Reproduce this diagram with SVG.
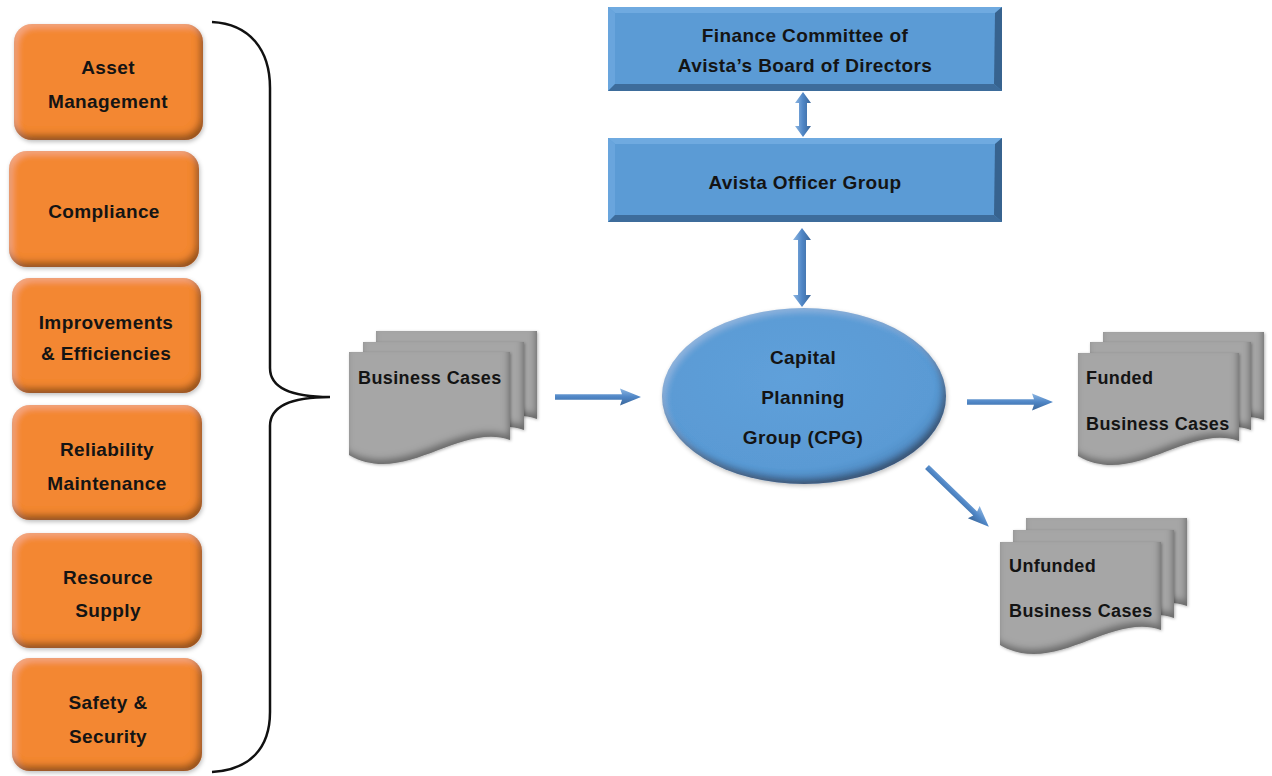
<svg xmlns="http://www.w3.org/2000/svg" xmlns:xlink="http://www.w3.org/1999/xlink" width="1272" height="776" viewBox="0 0 1272 776">
<style>
text{font-family:"Liberation Sans",Arial,sans-serif;font-weight:bold;font-size:19px;fill:#141414;letter-spacing:0.4px}
.c{text-anchor:middle}
.pg{font-size:18px}
.orange{fill:#F38733}
.page{fill:#A6A6A6}
.arrow{fill:url(#agH)}
.darrow{fill:url(#agV)}
</style>
<defs>
<filter id="bevel" x="-10%" y="-10%" width="125%" height="125%">
  <feGaussianBlur in="SourceAlpha" stdDeviation="3.5" result="blur"/>
  <feOffset in="blur" dx="-3" dy="-5" result="off"/>
  <feComposite in="SourceAlpha" in2="off" operator="out" result="rim"/>
  <feFlood flood-color="#2a1000" flood-opacity="0.7"/>
  <feComposite in2="rim" operator="in" result="shade"/>
  <feOffset in="blur" dx="3" dy="3" result="off2"/>
  <feComposite in="SourceAlpha" in2="off2" operator="out" result="rim2"/>
  <feFlood flood-color="#fff" flood-opacity="0.22"/>
  <feComposite in2="rim2" operator="in" result="hl"/>
  <feGaussianBlur in="SourceAlpha" stdDeviation="2" result="sb"/>
  <feOffset in="sb" dx="1" dy="2" result="ds"/>
  <feFlood flood-color="#000" flood-opacity="0.25"/>
  <feComposite in2="ds" operator="in" result="dsh"/>
  <feMerge><feMergeNode in="dsh"/><feMergeNode in="SourceGraphic"/><feMergeNode in="hl"/><feMergeNode in="shade"/></feMerge>
</filter>
<filter id="pshade" x="-10%" y="-10%" width="125%" height="125%">
  <feGaussianBlur in="SourceAlpha" stdDeviation="3" result="blur"/>
  <feOffset in="blur" dx="-2" dy="-5" result="off"/>
  <feComposite in="SourceAlpha" in2="off" operator="out" result="rim"/>
  <feFlood flood-color="#000" flood-opacity="0.6"/>
  <feComposite in2="rim" operator="in" result="shade"/>
  <feGaussianBlur in="SourceAlpha" stdDeviation="1.5" result="sb"/>
  <feOffset in="sb" dx="1" dy="1" result="ds"/>
  <feFlood flood-color="#000" flood-opacity="0.3"/>
  <feComposite in2="ds" operator="in" result="dsh"/>
  <feMerge><feMergeNode in="dsh"/><feMergeNode in="SourceGraphic"/><feMergeNode in="shade"/></feMerge>
</filter>
<linearGradient id="agH" x1="0" y1="0" x2="0" y2="1">
  <stop offset="0" stop-color="#8DB6E2"/>
  <stop offset="0.5" stop-color="#4F86C6"/>
  <stop offset="1" stop-color="#3A6699"/>
</linearGradient>
<linearGradient id="agV" x1="0" y1="0" x2="1" y2="0">
  <stop offset="0" stop-color="#8DB6E2"/>
  <stop offset="0.5" stop-color="#4F86C6"/>
  <stop offset="1" stop-color="#3A6699"/>
</linearGradient>
<radialGradient id="eg" cx="0.45" cy="0.4" r="0.6">
  <stop offset="0" stop-color="#5FA0DA"/>
  <stop offset="0.85" stop-color="#5A9AD4"/>
  <stop offset="1" stop-color="#4F8AC2"/>
</radialGradient>
<path id="page" d="M0,0 H161 V88 C111,70 55,135 0,103 Z"/>
<path id="arr" d="M0,-2.8 H67 L65,-8.5 L86,0 L65,8.5 L67,2.8 H0 Z"/>
</defs>
<rect width="1272" height="776" fill="#fff"/>

<g id="asset-management">
  <rect class="orange" x="14" y="24" width="189" height="116" rx="18" filter="url(#bevel)"/>
  <text class="c" x="108" y="74">Asset</text>
  <text class="c" x="108" y="108">Management</text>
</g>
<g id="compliance">
  <rect class="orange" x="9" y="151" width="190" height="116" rx="18" filter="url(#bevel)"/>
  <text class="c" x="104" y="218">Compliance</text>
</g>
<g id="improvements">
  <rect class="orange" x="12" y="278" width="189" height="115" rx="18" filter="url(#bevel)"/>
  <text class="c" x="106" y="329">Improvements</text>
  <text class="c" x="106" y="360">&amp; Efficiencies</text>
</g>
<g id="reliability">
  <rect class="orange" x="12" y="405" width="190" height="115" rx="18" filter="url(#bevel)"/>
  <text class="c" x="107" y="456">Reliability</text>
  <text class="c" x="107" y="490">Maintenance</text>
</g>
<g id="resource-supply">
  <rect class="orange" x="12" y="533" width="190" height="115" rx="18" filter="url(#bevel)"/>
  <text class="c" x="108" y="584">Resource</text>
  <text class="c" x="108" y="617">Supply</text>
</g>
<g id="safety-security">
  <rect class="orange" x="12" y="658" width="190" height="113" rx="18" filter="url(#bevel)"/>
  <text class="c" x="108" y="709">Safety &amp;</text>
  <text class="c" x="108" y="743">Security</text>
</g>

<g id="brace">
  <path d="M212,22 C250,24 270,50 270,88 V368 C270,388 292,397 330,397 C292,397 270,406 270,426 V712 C270,748 250,770 212,772" fill="none" stroke="#111" stroke-width="2.5"/>
</g>

<g id="finance-committee">
  <rect x="608" y="7" width="394" height="84" fill="#5B9BD5"/>
  <polygon points="608,7 1002,7 995,13 615,13" fill="#6FAAE0"/>
  <polygon points="608,7 615,13 615,84 608,91" fill="#69A5DD"/>
  <polygon points="608,91 1002,91 994,84 615,84" fill="#3D6C9B"/>
  <polygon points="1002,7 1002,91 994,84 995,13" fill="#37638F"/>
  <text class="c" x="805" y="42">Finance Committee of</text>
  <text class="c" x="805" y="72">Avista’s Board of Directors</text>
</g>
<g id="officer-group">
  <rect x="608" y="138" width="394" height="84" fill="#5B9BD5"/>
  <polygon points="608,138 1002,138 995,144 615,144" fill="#6FAAE0"/>
  <polygon points="608,138 615,144 615,215 608,222" fill="#69A5DD"/>
  <polygon points="608,222 1002,222 994,215 615,215" fill="#3D6C9B"/>
  <polygon points="1002,138 1002,222 994,215 995,144" fill="#37638F"/>
  <text class="c" x="805" y="189">Avista Officer Group</text>
</g>

<g id="cpg">
  <ellipse cx="804" cy="396" rx="142" ry="88" fill="url(#eg)" filter="url(#bevel)"/>
  <text class="c" x="803" y="364">Capital</text>
  <text class="c" x="803" y="404">Planning</text>
  <text class="c" x="803" y="444">Group (CPG)</text>
</g>

<g id="business-cases">
  <use xlink:href="#page" class="page" transform="translate(376,331)" filter="url(#pshade)"/>
  <use xlink:href="#page" class="page" transform="translate(363,342)" filter="url(#pshade)"/>
  <use xlink:href="#page" class="page" transform="translate(349,352)" filter="url(#pshade)"/>
  <text class="pg" x="358" y="384">Business Cases</text>
</g>
<g id="funded">
  <use xlink:href="#page" class="page" transform="translate(1103,332)" filter="url(#pshade)"/>
  <use xlink:href="#page" class="page" transform="translate(1090,342)" filter="url(#pshade)"/>
  <use xlink:href="#page" class="page" transform="translate(1078,353)" filter="url(#pshade)"/>
  <text class="pg" x="1086" y="384">Funded</text>
  <text class="pg" x="1086" y="430">Business Cases</text>
</g>
<g id="unfunded">
  <use xlink:href="#page" class="page" transform="translate(1026,518)" filter="url(#pshade)"/>
  <use xlink:href="#page" class="page" transform="translate(1013,530)" filter="url(#pshade)"/>
  <use xlink:href="#page" class="page" transform="translate(1000,542)" filter="url(#pshade)"/>
  <text class="pg" x="1009" y="572">Unfunded</text>
  <text class="pg" x="1009" y="617">Business Cases</text>
</g>

<g id="connectors">
  <path class="darrow" d="M803,92 L811,103 L807,103 V126 L811,126 L803,137 L795,126 L799,126 V103 L795,103 Z"/>
  <path class="darrow" d="M802,228 L811,240 L806,240 V295 L811,295 L802,307 L793,295 L798,295 V240 L793,240 Z"/>
  <use xlink:href="#arr" class="arrow" transform="translate(555,397)"/>
  <use xlink:href="#arr" class="arrow" transform="translate(967,402)"/>
  <use xlink:href="#arr" class="arrow" transform="translate(927,467) rotate(44)"/>
</g>
</svg>
